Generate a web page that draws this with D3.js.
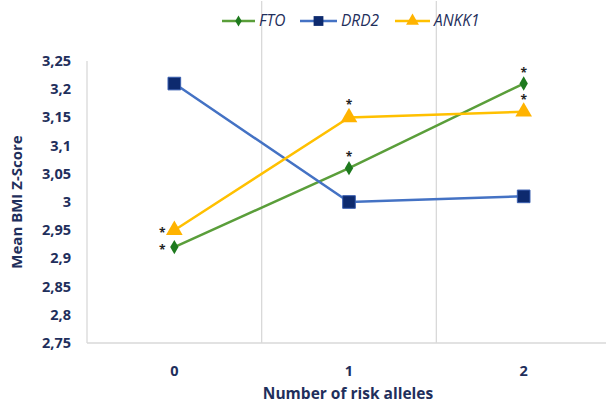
<!DOCTYPE html>
<html><head><meta charset="utf-8">
<script src="https://cdn.jsdelivr.net/npm/d3@7"></script>
<style>body{margin:0;background:#fff}svg{display:block;font-family:"Open Sans",sans-serif}</style>
</head><body><svg id="c" width="606" height="405"></svg>
<script>
const categories = ["0","1","2"];
const fto = [2.92, 3.06, 3.21];
const drd2 = [3.21, 3.00, 3.01];
const ankk1 = [2.95, 3.15, 3.16];
const yTicks = [2.75,2.8,2.85,2.9,2.95,3,3.05,3.1,3.15,3.2,3.25];
const seriesNames = ["FTO","DRD2","ANKK1"];
// significance markers: category indices with an asterisk
const sigFTO = [0,1,2];
const sigANKK1 = [0,1,2];

const svg = d3.select("#c");
const m = {l:87, r:611, t:61, b:343};
const x = d3.scaleBand().domain(categories).range([m.l, m.r]);
const y = d3.scaleLinear().domain([2.75,3.25]).range([m.b, m.t]);
const navy = "#1f2f5c";
const fmt = v => String(v).replace(".", ",");

// gridlines (vertical category separators)
svg.append("g").selectAll("line").data(categories.slice(1)).join("line")
  .attr("x1", d=>x(d)).attr("x2", d=>x(d)).attr("y1", m.t-60).attr("y2", m.b)
  .attr("stroke","#d9d9d9").attr("stroke-width",1.3);
// axis lines
svg.append("line").attr("x1",m.l).attr("x2",m.l).attr("y1",m.t).attr("y2",m.b).attr("stroke","#d9d9d9").attr("stroke-width",1.3);
svg.append("line").attr("x1",m.l).attr("x2",m.r).attr("y1",m.b).attr("y2",m.b).attr("stroke","#d9d9d9").attr("stroke-width",1.3);

// y tick labels
svg.append("g").selectAll("text").data(yTicks).join("text")
  .attr("x", 71).attr("y", d=>y(d)).attr("dy","0.35em").attr("text-anchor","end")
  .attr("font-size",14.5).attr("font-weight","bold").attr("fill",navy).text(fmt);
// x tick labels
svg.append("g").selectAll("text").data(categories).join("text")
  .attr("x", d=>x(d)+x.bandwidth()/2).attr("y", 371).attr("dy","0.35em").attr("text-anchor","middle")
  .attr("font-size",14.5).attr("font-weight","bold").attr("fill",navy).text(d=>d);
// axis titles
svg.append("text").attr("x", 348).attr("y", 394).attr("dy","0.35em").attr("text-anchor","middle")
  .attr("font-size",15.5).attr("font-weight","bold").attr("fill",navy).text("Number of risk alleles");
svg.append("text").attr("transform","translate(17,202) rotate(-90)").attr("dy","0.35em").attr("text-anchor","middle")
  .attr("font-size",15).attr("font-weight","bold").attr("fill",navy).text("Mean BMI Z-Score");

const cx = (i) => x(categories[i]) + x.bandwidth()/2;
const series = [
  {name:"FTO", values:fto, line:"#5a9e3a", mark:"#1e7a1e", shape:d3.symbolDiamond, size:60},
  {name:"DRD2", values:drd2, line:"#4472c4", mark:"#0d2a6e", shape:d3.symbolSquare, size:160},
  {name:"ANKK1", values:ankk1, line:"#ffc000", mark:"#ffb300", shape:d3.symbolTriangle, size:120}
];
const lineGen = d3.line().x((d,i)=>cx(i)).y(d=>y(d));
series.forEach(s=>{
  svg.append("path").datum(s.values).attr("d", lineGen).attr("fill","none")
    .attr("stroke", s.line).attr("stroke-width",2.5);
});
series.forEach(s=>{
  svg.append("g").selectAll("path").data(s.values).join("path")
    .attr("transform",(d,i)=>`translate(${cx(i)},${y(d)})`)
    .attr("d", d3.symbol().type(s.shape).size(s.size)).attr("fill", s.mark)
    .attr("stroke", s.name==="DRD2"?"#3a5fb0":"none").attr("stroke-width",1);
});

// asterisks (centred on px,py)
function star(px, py){
  svg.append("text").attr("x",px).attr("y",py+6).attr("text-anchor","middle")
    .attr("font-size",12).attr("font-weight","bold").attr("fill","#222").text("*");
}
sigFTO.forEach(i=>{
  if(i===0) star(cx(i)-12, y(fto[i])+1);
  else star(cx(i), y(fto[i])-13);
});
sigANKK1.forEach(i=>{
  if(i===0) star(cx(i)-12, y(ankk1[i])+1);
  else star(cx(i), y(ankk1[i])-14);
});

// legend
const lg = svg.append("g");
const legX = [222, 300, 395];
const legW = [33, 37, 35];
series.forEach((s,k)=>{
  const g = lg.append("g").attr("transform",`translate(${legX[k]},21)`);
  g.append("line").attr("x1",0).attr("x2",legW[k]).attr("stroke",s.line).attr("stroke-width",2.5);
  g.append("path").attr("transform",`translate(${legW[k]/2},0)`)
    .attr("d", d3.symbol().type(s.shape).size(s.size*0.6)).attr("fill", s.mark);
  g.append("text").attr("x",legW[k]+4).attr("dy","0.35em").attr("font-size",15.5).attr("font-style","italic")
    .attr("fill",navy).text(s.name);
});
</script></body></html>
